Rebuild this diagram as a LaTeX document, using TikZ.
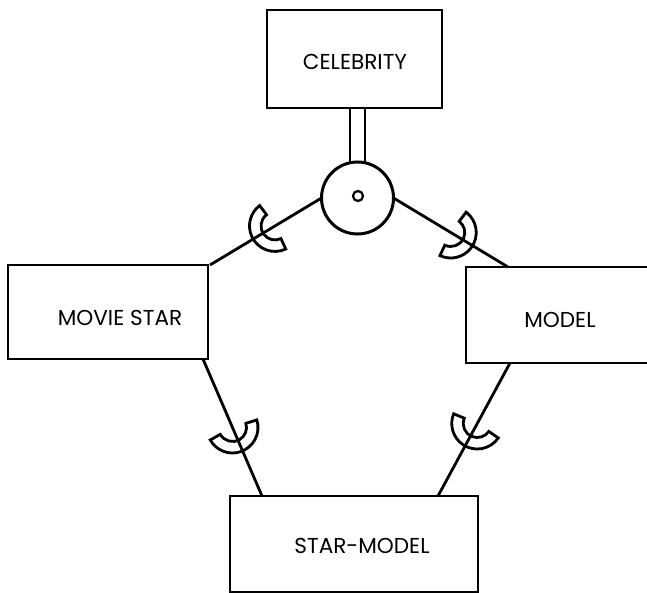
\documentclass[tikz,border=0pt]{standalone}
\usepackage{fontspec}
\setmainfont{Poppins}
\usetikzlibrary{calc}
\begin{document}
\begin{tikzpicture}[x=1pt,y=-1pt,line width=2.8pt,
  entity/.style={draw,rectangle,inner sep=0pt,outer sep=0pt},
  lbl/.style={inner sep=0pt,font=\fontsize{21.6}{24}\selectfont},
  subset/.pic={\draw[line width=2.8pt] (-84:25.5) arc[start angle=-84,end angle=84,radius=25.5]
      -- (84:14) arc[start angle=84,end angle=-84,radius=14] -- cycle;}]
\useasboundingbox (0,0) rectangle (647,593);
\clip (0,0) rectangle (647,593);

% entity boxes
\node[entity,minimum width=175,minimum height=98] (celeb) at (354.5,59) {};
\node[entity,minimum width=200,minimum height=94] (ms) at (108,312) {};
\node[entity,minimum width=194,minimum height=96] (model) at (563,315) {};
\node[entity,minimum width=248,minimum height=96] (sm) at (354,544) {};

% labels
\node[lbl] (tceleb) at (355,61.5) {CELEBRITY};
\node[lbl] (tms) at (120,318) {MOVIE STAR};
\node[lbl] (tmodel) at (560,320) {MODEL};
\node[lbl] (tsm) at (362,546) {STAR-MODEL};

% overlapping specialization circle
\node[draw,circle,inner sep=0pt,outer sep=0pt,minimum size=72,line width=3pt] (circ) at (357.5,198) {};
\node[draw,circle,inner sep=0pt,line width=2.2pt,minimum size=10] (dot) at (358,196) {};

% total participation: double line to the superclass
\draw ([xshift=-7.5]circ.north) -- ([xshift=-7.5]circ.north |- celeb.south);
\draw ([xshift=7.5]circ.north) -- ([xshift=7.5]circ.north |- celeb.south);

% subclass connectors with subset marks
\draw (circ.west) -- pic[pos=0.417,sloped,allow upside down]{subset} ([xshift=2]ms.north east);
\draw (circ.east) -- pic[pos=0.5,sloped,allow upside down]{subset} ([xshift=42]model.north west);
\draw ([xshift=-5]ms.south east) -- pic[pos=0.5,sloped,allow upside down]{subset} ([xshift=32]sm.north west);
\draw ([xshift=44]model.south west) -- pic[pos=0.455,sloped,allow upside down]{subset} ([xshift=208]sm.north west);
\end{tikzpicture}
\end{document}
